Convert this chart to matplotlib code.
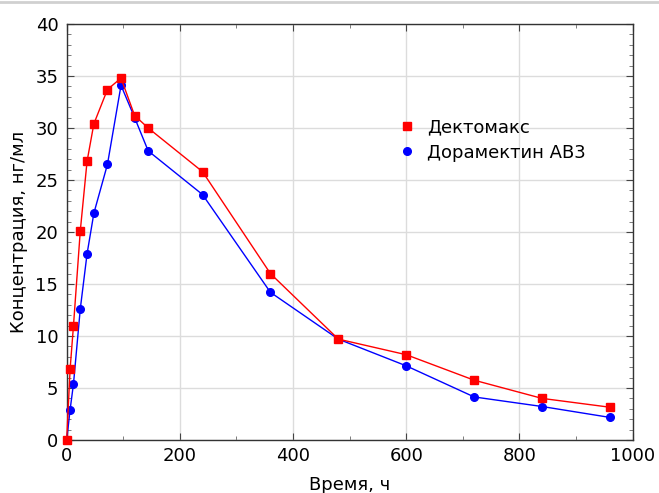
import matplotlib
matplotlib.use("Agg")
import matplotlib.pyplot as plt
from matplotlib.lines import Line2D
from matplotlib.ticker import MultipleLocator

plt.rcParams['font.family'] = ['DejaVu Sans']

# time points, hours
time_h = [0, 6, 12, 24, 36, 48, 72, 96, 120, 144, 240, 360, 480, 600, 720, 840, 960]

# concentration, ng/ml
dectomax = [0, 6.8, 11.0, 20.1, 26.8, 30.4, 33.7, 34.8, 31.2, 30.0,
            25.8, 16.0, 9.7, 8.2, 5.75, 4.0, 3.15]
doramectin_ab3 = [0, 2.9, 5.4, 12.6, 17.9, 21.8, 26.5, 34.1, 31.0, 27.8,
                  23.6, 14.2, 9.7, 7.13, 4.14, 3.22, 2.17]

label_red = 'Дектомакс'
label_blue = 'Дорамектин АВ3'

fig = plt.figure(figsize=(6.59, 4.93), dpi=100)
ax = fig.add_axes([0.1012, 0.1075, 0.8588, 0.8438])

ax.plot(time_h, doramectin_ab3, color='#0000ff', lw=1.0, marker='o', ms=5.5,
        zorder=3, clip_on=False)
ax.plot(time_h, dectomax, color='#ff0000', lw=1.0, marker='s', ms=5.5,
        zorder=4, clip_on=False)

ax.set_xlim(0, 1000)
ax.set_ylim(0, 40)
ax.xaxis.set_major_locator(MultipleLocator(200))
ax.xaxis.set_minor_locator(MultipleLocator(100))
ax.yaxis.set_major_locator(MultipleLocator(5))
ax.yaxis.set_minor_locator(MultipleLocator(1))
ax.grid(True, which='major', color='#dcdcdc', lw=1.0)
ax.set_axisbelow(True)

ax.tick_params(which='both', direction='in', top=True, right=True, labelsize=13)
ax.tick_params(which='major', length=5, width=0.8, color='#444444')
ax.tick_params(which='minor', length=3, width=0.6, color='#666666')
ax.tick_params(axis='y', pad=6)
ax.tick_params(axis='x', pad=5)
for s in ax.spines.values():
    s.set_color('#333333')
    s.set_linewidth(1.0)

ax.set_xlabel('Время, ч', fontsize=13, labelpad=8)
ax.set_ylabel('Концентрация, нг/мл', fontsize=13, labelpad=5)

handles = [Line2D([], [], color='#ff0000', marker='s', ls='none', ms=5.5),
           Line2D([], [], color='#0000ff', marker='o', ls='none', ms=5.5)]
ax.legend(handles, [label_red, label_blue], loc='center left',
          bbox_to_anchor=(0.585, 0.721), frameon=False, fontsize=13,
          borderpad=0, borderaxespad=0, handlelength=1.0,
          handletextpad=0.6, labelspacing=0.4)

# thin grey strip at the very top of the picture
fig.add_artist(Line2D([0, 1], [0.995, 0.995], transform=fig.transFigure,
                      color='#d0d0d0', lw=2))

fig.savefig('out.png', dpi=100)
